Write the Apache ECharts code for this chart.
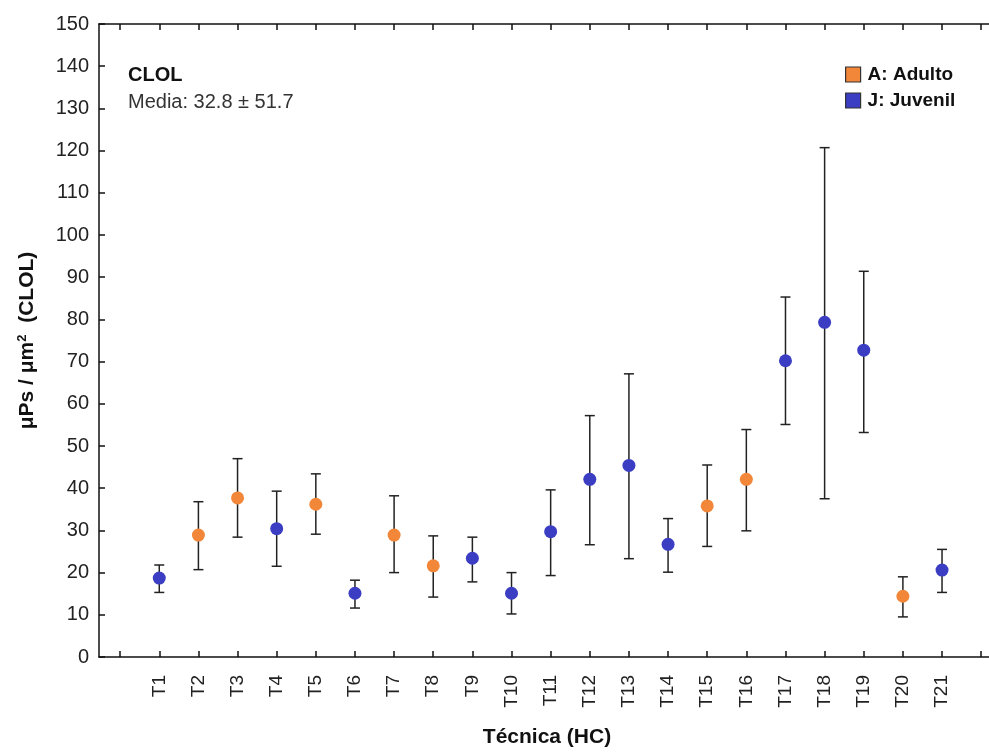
<!DOCTYPE html>
<html>
<head>
<meta charset="utf-8">
<script src="https://cdn.jsdelivr.net/npm/echarts@6/dist/echarts.min.js"></script>
<style>
html,body{margin:0;padding:0;background:#fff;}
#chart{width:989px;height:753px;}
</style>
</head>
<body>
<div id="chart"></div>
<script>
// ---- data ----
const categories = ['T1','T2','T3','T4','T5','T6','T7','T8','T9','T10','T11','T12','T13','T14','T15','T16','T17','T18','T19','T20','T21'];
const groups = ['J','A','A','J','A','J','A','A','J','J','J','J','J','J','A','A','J','J','J','A','J'];
const means = [18.7,28.9,37.7,30.4,36.2,15.1,28.9,21.6,23.4,15.1,29.7,42.1,45.4,26.7,35.8,42.1,70.2,79.3,72.7,14.4,20.6];
const lows  = [15.3,20.7,28.4,21.5,29.1,11.6,20.0,14.2,17.8,10.2,19.3,26.6,23.3,20.1,26.2,29.9,55.1,37.5,53.2,9.5,15.3];
const highs = [21.8,36.8,47.0,39.3,43.4,18.2,38.2,28.7,28.4,20.0,39.6,57.2,67.1,32.8,45.5,53.9,85.3,120.7,91.4,19.0,25.5];
const yTicks = [0,10,20,30,40,50,60,70,80,90,100,110,120,130,140,150];
const seriesNames = {A:'A: Adulto', J:'J: Juvenil'};
const titleText = 'CLOL';
const subText = 'Media: 32.8 ± 51.7';

const ORANGE = '#f2873a';
const BLUE = '#3b3ec2';
const FONT = 'Liberation Sans, Arial, sans-serif';

const xPos = categories.map((c,i)=>i+1);
const adultPts = [], juvPts = [];
categories.forEach((c,i)=>{
  (groups[i]==='A'?adultPts:juvPts).push([xPos[i], means[i]]);
});
const errData = categories.map((c,i)=>[xPos[i], lows[i], highs[i]]);
const tickVals = [];
for(let i=0;i<=categories.length+1;i++) tickVals.push(i);

const chart = echarts.init(document.getElementById('chart'), null, {renderer:'canvas'});
const axisLineStyle = {color:'#111', width:1.5};
chart.setOption({
  animation:false,
  backgroundColor:'#fff',
  textStyle:{fontFamily:FONT},
  grid:{left:99, right:0, top:24, bottom:88, containLabel:false},
  legend:{
    orient:'vertical', left:840, top:60, itemWidth:15, itemHeight:15, itemGap:7,
    icon:'rect',
    itemStyle:{borderColor:'#333', borderWidth:1.2},
    textStyle:{fontFamily:FONT, fontSize:19, fontWeight:'bold', color:'#111', padding:[0,0,0,2]},
    data:[seriesNames.A, seriesNames.J]
  },
  xAxis:[{
    type:'value', min:-0.54, max:22.2, position:'bottom',
    axisLine:{show:true, onZero:false, lineStyle:axisLineStyle},
    axisTick:{show:true, inside:true, length:6, customValues:tickVals, lineStyle:{color:'#111', width:1.5}},
    axisLabel:{show:true, customValues:xPos, rotate:90, margin:18, fontSize:19, color:'#222', fontFamily:FONT,
      formatter:v=>categories[Math.round(v)-1]||''},
    splitLine:{show:false},
    name:'Técnica (HC)', nameLocation:'middle', nameGap:70,
    nameTextStyle:{fontSize:21, fontWeight:'bold', color:'#111', fontFamily:FONT, padding:[0,0,0,6]}
  },{
    type:'value', min:-0.54, max:22.2, position:'top',
    axisLine:{show:true, onZero:false, lineStyle:axisLineStyle},
    axisTick:{show:true, inside:true, length:6, customValues:tickVals, lineStyle:{color:'#111', width:1.5}},
    axisLabel:{show:false},
    splitLine:{show:false}
  }],
  yAxis:{
    type:'value', min:0, max:150, interval:10,
    axisLine:{show:true, onZero:false, lineStyle:axisLineStyle},
    axisTick:{show:true, inside:true, length:6, lineStyle:{color:'#111', width:1.5}},
    axisLabel:{fontSize:20, color:'#222', margin:10, fontFamily:FONT,
      formatter:v=> yTicks.indexOf(v)>=0 ? String(v) : ''},
    splitLine:{show:false},
    name:'{b|μPs / μm}{s|2}{b|  (CLOL)}', nameLocation:'middle', nameGap:60, nameRotate:90,
    nameTextStyle:{
      rich:{
        b:{fontSize:21, fontWeight:'bold', color:'#111', fontFamily:FONT},
        s:{fontSize:13, fontWeight:'bold', color:'#111', fontFamily:FONT, verticalAlign:'top', padding:[0,0,10,0]}
      }
    }
  },
  graphic:[
    {type:'text', left:128, top:65, style:{text:titleText, fontSize:20, fontWeight:'bold', fill:'#111', fontFamily:FONT}},
    {type:'text', left:128, top:92, style:{text:subText, fontSize:20, fill:'#333', fontFamily:FONT}}
  ],
  series:[
    {
      type:'custom', name:'err', xAxisIndex:0, yAxisIndex:0, z:2, silent:true,
      data:errData,
      encode:{x:0, y:[1,2]},
      renderItem:function(params, api){
        const x = api.value(0);
        const lo = api.coord([x, api.value(1)]);
        const hi = api.coord([x, api.value(2)]);
        const hw = 5;
        const st = {stroke:'#222', lineWidth:1.5};
        return {type:'group', children:[
          {type:'line', shape:{x1:lo[0], y1:lo[1], x2:hi[0], y2:hi[1]}, style:st},
          {type:'line', shape:{x1:lo[0]-hw, y1:lo[1], x2:lo[0]+hw, y2:lo[1]}, style:st},
          {type:'line', shape:{x1:hi[0]-hw, y1:hi[1], x2:hi[0]+hw, y2:hi[1]}, style:st}
        ]};
      }
    },
    {type:'scatter', name:seriesNames.A, data:adultPts, symbol:'circle', symbolSize:13, z:5,
      itemStyle:{color:ORANGE, opacity:1, borderWidth:0}},
    {type:'scatter', name:seriesNames.J, data:juvPts, symbol:'circle', symbolSize:13, z:5,
      itemStyle:{color:BLUE, opacity:1, borderWidth:0}}
  ]
});
</script>
</body>
</html>
